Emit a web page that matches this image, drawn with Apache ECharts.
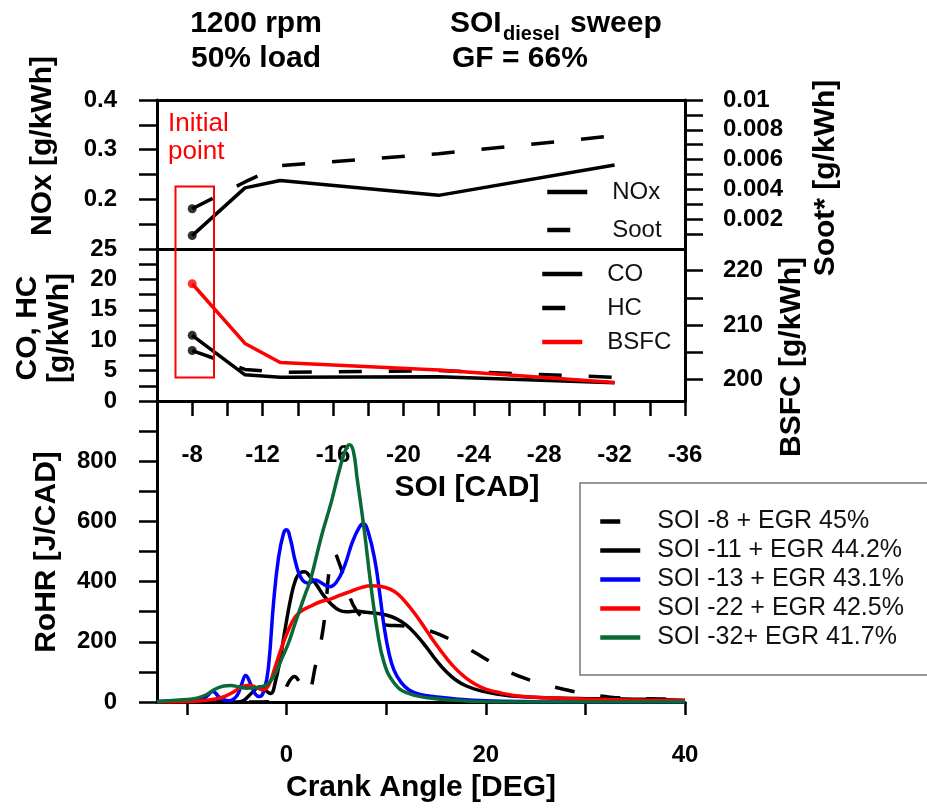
<!DOCTYPE html>
<html>
<head>
<meta charset="utf-8">
<script src="https://cdn.jsdelivr.net/npm/echarts@6/dist/echarts.min.js"></script>
<style>
  html, body { margin: 0; padding: 0; background: #fff; }
  #chart { width: 927px; height: 810px; }
</style>
</head>
<body>
<div id="chart"></div>
<script>
// ---- data ----
const soi = [-8, -11, -13, -22, -32];
const nox = [0.127, 0.223, 0.238, 0.208, 0.269];
const soot = [0.0027, 0.0045, 0.0056, 0.0064, 0.0076];
const co = [10.8, 4.3, 3.9, 4.0, 3.0];
const hc = [8.3, 5.2, 4.7, 5.0, 3.9];
const bsfc = [217.6, 206.6, 203.1, 201.7, 199.4];

// rate of heat release [crank angle, J/CAD]
const rohrSoi8 = [[-13,0],[-8,0],[-3,0],[-1,2],[-0.3,30],[0.3,70],[0.8,85],[1.4,60],[2.1,28],[2.4,40],[2.9,120],[3.4,190],[3.9,300],[4.3,440],[4.8,497],[5.2,470],[5.8,410],[6.4,345],[7.0,305],[7.8,278],[8.8,265],[10,256],[11.5,253],[13,248],[14.2,238],[15.4,224],[16.6,205],[17.8,185],[19,163],[20,143],[21.2,120],[22.5,97],[24.5,72],[26,57],[27.5,45],[29.5,30],[31,22],[32.5,16],[35,12],[37.5,10],[40,8]];
const rohrSoi11 = [[-13,0],[-10,0],[-5,0],[-4.3,5],[-3.5,30],[-2.7,50],[-2.1,38],[-1.6,28],[-1.1,70],[-0.6,150],[-0.1,250],[0.4,340],[0.9,405],[1.4,430],[1.8,433],[2.4,415],[3.0,390],[3.7,355],[4.5,325],[5.3,305],[6.0,300],[7.0,302],[8.0,298],[9.0,295],[10.0,289],[11.0,277],[12.0,256],[13.0,224],[14.0,184],[15.0,140],[16.0,102],[17.0,73],[18.0,54],[19.5,37],[21.5,25],[23,19],[26,14],[30,11],[34,10],[37,8],[40,6]];
const rohrSoi13 = [[-13,2],[-10,6],[-8.2,15],[-7.4,35],[-6.7,15],[-5.8,4],[-5,20],[-4.5,60],[-4.1,88],[-3.6,60],[-3.1,25],[-2.7,18],[-2.2,45],[-1.8,120],[-1.3,330],[-0.8,480],[-0.3,560],[0,572],[0.4,540],[0.9,465],[1.5,410],[2.2,395],[2.9,405],[3.5,396],[4.3,383],[5.0,398],[5.8,450],[6.6,530],[7.3,580],[7.7,592],[8.2,565],[8.9,465],[9.4,350],[9.8,250],[10.3,160],[10.8,105],[11.5,65],[12.3,40],[13.4,25],[15,17],[17,10],[20,4],[25,1],[30,0],[40,0]];
const rohrSoi22 = [[-13,0],[-10,2],[-8,6],[-6.5,15],[-5.5,30],[-4.5,50],[-3.8,56],[-3.0,48],[-2.4,40],[-1.8,55],[-1.2,110],[-0.5,180],[0.2,240],[0.9,284],[1.6,305],[2.4,318],[3.4,333],[4.4,342],[5.4,355],[6.4,367],[7.5,380],[8.5,386],[9.5,384],[10.4,375],[11.2,358],[12,330],[13,288],[14,240],[15,192],[16,148],[17,110],[18,80],[19,58],[20,43],[21.5,30],[23,21],[25,16],[28,12],[32,8],[36,6],[40,4]];
const rohrSoi32 = [[-13,2],[-10,8],[-9,13],[-8,25],[-7.2,42],[-6.3,53],[-5.6,55],[-4.8,50],[-4.0,46],[-3.2,47],[-2.4,52],[-1.8,62],[-1.1,96],[-0.4,150],[0.2,196],[0.8,255],[1.9,360],[2.4,405],[3.5,550],[4.5,665],[5.3,770],[5.9,835],[6.3,855],[6.7,835],[7.1,740],[7.8,572],[8.4,406],[9.1,240],[9.8,130],[10.8,63],[12.1,30],[14.4,13],[17.5,5],[20,1],[25,0],[40,0]];

const rohrNames = ['SOI -8 + EGR 45%', 'SOI -11 + EGR 44.2%', 'SOI -13 + EGR 43.1%', 'SOI -22 + EGR 42.5%', 'SOI -32+ EGR 41.7%'];

// ---- tick positions ----
const noxTicks = [0.1, 0.15, 0.2, 0.25, 0.3, 0.35, 0.4];
const noxLabels = [0.2, 0.3, 0.4];
const sootTicks = [0.001, 0.002, 0.003, 0.004, 0.005, 0.006, 0.007, 0.008, 0.009, 0.01];
const sootLabels = [0.002, 0.004, 0.006, 0.008, 0.01];
const coTicks = [0, 2.5, 5, 7.5, 10, 12.5, 15, 17.5, 20, 22.5, 25];
const coLabels = [0, 5, 10, 15, 20, 25];
const bsfcTicks = [200, 205, 210, 215, 220];
const bsfcLabels = [200, 210, 220];
const rohrTicks = [0, 100, 200, 300, 400, 500, 600, 700, 800, 900, 1000];
const rohrLabels = [0, 200, 400, 600, 800];
const caTicks = [-10, 0, 10, 20, 30, 40];
const caLabels = [0, 20, 40];

const FONT = '"Liberation Sans", Arial, sans-serif';
const GREEN = '#0a6a36';
const LW = 3.5;

var chart = echarts.init(document.getElementById('chart'));

var axisLine = { onZero: false, lineStyle: { color: '#000', width: 3 } };
var tickStyle = { lineStyle: { color: '#000', width: 2.5 } };
var tickFont = { color: '#000', fontFamily: FONT, fontWeight: 'bold', fontSize: 24 };

function yAx(grid, pos, min, max, ticks, labels, fmt) {
    return {
        type: 'value', gridIndex: grid, position: pos, min: min, max: max,
        axisLine: axisLine,
        axisTick: Object.assign({ length: 18, customValues: ticks }, tickStyle),
        axisLabel: Object.assign({ margin: pos === 'left' ? 40 : 38, customValues: labels, formatter: fmt }, tickFont),
        splitLine: { show: false }
    };
}

function line(name, x, y, data, color, dashed) {
    return {
        name: name, type: 'line', xAxisIndex: x, yAxisIndex: y, data: data,
        symbol: 'none', smooth: false, color: color,
        lineStyle: { color: color, width: LW, type: dashed ? [23, 27] : 'solid' }
    };
}

function dot(x, y, pt, color) {
    return { type: 'scatter', xAxisIndex: x, yAxisIndex: y, data: [pt], symbolSize: 9, itemStyle: { color: color }, z: 5 };
}

function curve(name, data, color, dashed) {
    return {
        name: name, type: 'line', xAxisIndex: 3, yAxisIndex: 4, data: data,
        symbol: 'none', smooth: 0.45, color: color,
        lineStyle: { color: color, width: LW, type: dashed ? [20, 26] : 'solid' }
    };
}

function txt(x, y, text, size, opts) {
    return {
        type: 'text', x: x, y: y, rotation: (opts && opts.rot) || 0,
        style: {
            text: text, fill: (opts && opts.color) || '#000',
            font: ((opts && opts.weight) || 'bold') + ' ' + size + 'px ' + FONT,
            textAlign: (opts && opts.align) || 'center', align: (opts && opts.align) || 'center',
            textVerticalAlign: 'middle', verticalAlign: 'middle',
            lineHeight: opts && opts.lh
        }
    };
}

var pairs = function (ys) { return soi.map(function (s, i) { return [s, ys[i]]; }); };

var legendBase = {
    orient: 'vertical', selectedMode: false, itemWidth: 40,
    itemStyle: { opacity: 0 },
    lineStyle: { width: 4.5 }
};

var option = {
    animation: false,
    backgroundColor: '#fff',
    grid: [
        { left: 157, top: 100, width: 528, height: 149 },
        { left: 157, top: 249, width: 528, height: 152 },
        { left: 157, top: 401, width: 528, height: 301 }
    ],
    xAxis: [
        { type: 'value', gridIndex: 0, min: -36, max: -6, inverse: true, position: 'bottom',
          axisLine: axisLine, axisTick: { show: false }, axisLabel: { show: false }, splitLine: { show: false } },
        { type: 'value', gridIndex: 0, min: -36, max: -6, inverse: true, position: 'top',
          axisLine: axisLine, axisTick: { show: false }, axisLabel: { show: false }, splitLine: { show: false } },
        { type: 'value', gridIndex: 1, min: -36, max: -6, interval: 2, inverse: true, position: 'bottom',
          axisLine: axisLine, axisTick: Object.assign({ length: 15 }, tickStyle),
          axisLabel: Object.assign({ margin: 42, showMinLabel: true, showMaxLabel: true,
              formatter: function (v) { return v % 4 === 0 ? String(v) : ''; } }, tickFont),
          splitLine: { show: false } },
        { type: 'value', gridIndex: 2, min: -13, max: 40, position: 'bottom',
          axisLine: axisLine, axisTick: Object.assign({ length: 13, customValues: caTicks }, tickStyle),
          axisLabel: Object.assign({ margin: 41, customValues: caLabels }, tickFont),
          splitLine: { show: false } }
    ],
    yAxis: [
        yAx(0, 'left', 0.1, 0.4, noxTicks, noxLabels, function (v) { return v.toFixed(1); }),
        yAx(0, 'right', 0, 0.01, sootTicks, sootLabels, function (v) { return v >= 0.0099 ? '0.01' : v.toFixed(3); }),
        yAx(1, 'left', 0, 25, coTicks, coLabels),
        yAx(1, 'right', 196, 224, bsfcTicks, bsfcLabels),
        yAx(2, 'left', 0, 1000, rohrTicks, rohrLabels)
    ],
    legend: [
        Object.assign({ data: ['NOx', 'Soot'], left: 545, top: 180, padding: 0,
          itemHeight: 24, itemGap: 14,
          textStyle: { fontFamily: FONT, fontSize: 24, color: '#111', lineHeight: 24, padding: [0, 0, 0, 20] } }, legendBase),
        Object.assign({ data: ['CO', 'HC', 'BSFC'], left: 540, top: 262, padding: 0,
          itemHeight: 24, itemGap: 10,
          textStyle: { fontFamily: FONT, fontSize: 24, color: '#111', lineHeight: 24, padding: [0, 0, 0, 20] } }, legendBase),
        Object.assign({ data: rohrNames, left: 580, top: 483, padding: [26, 60, 25, 18],
          borderColor: '#777', borderWidth: 1.5, borderRadius: 0,
          itemHeight: 22, itemGap: 4,
          textStyle: { fontFamily: FONT, fontSize: 25, color: '#111', lineHeight: 22, padding: [0, 0, 0, 12] } }, legendBase)
    ],
    series: [
        line('NOx', 0, 0, pairs(nox), '#000', false),
        line('Soot', 0, 1, pairs(soot), '#000', true),
        dot(0, 0, [soi[0], nox[0]], '#000'),
        dot(0, 1, [soi[0], soot[0]], '#000'),
        line('CO', 2, 2, pairs(co), '#000', false),
        line('HC', 2, 2, pairs(hc), '#000', true),
        line('BSFC', 2, 3, pairs(bsfc), '#ff0000', false),
        dot(2, 2, [soi[0], co[0]], '#000'),
        dot(2, 2, [soi[0], hc[0]], '#000'),
        dot(2, 3, [soi[0], bsfc[0]], '#ff0000'),
        curve(rohrNames[0], rohrSoi8, '#000', true),
        curve(rohrNames[1], rohrSoi11, '#000', false),
        curve(rohrNames[2], rohrSoi13, '#0000ff', false),
        curve(rohrNames[3], rohrSoi22, '#ff0000', false),
        curve(rohrNames[4], rohrSoi32, GREEN, false)
    ],
    graphic: [
        txt(256, 24, '1200 rpm', 30),
        txt(256, 59, '50% load', 30),
        txt(450, 24, 'SOI', 30, { align: 'left' }),
        txt(503, 34, 'diesel', 20, { align: 'left' }),
        txt(570, 24, 'sweep', 30, { align: 'left' }),
        txt(452, 59, 'GF = 66%', 30, { align: 'left' }),
        txt(43, 146, 'NOx [g/kWh]', 30, { rot: Math.PI / 2 }),
        txt(826, 178, 'Soot* [g/kWh]', 30, { rot: Math.PI / 2 }),
        txt(28, 328, 'CO, HC', 30, { rot: Math.PI / 2 }),
        txt(60, 328, '[g/kWh]', 30, { rot: Math.PI / 2 }),
        txt(792, 357, 'BSFC [g/kWh]', 30, { rot: Math.PI / 2 }),
        txt(47, 552, 'RoHR [J/CAD]', 30, { rot: Math.PI / 2 }),
        txt(467, 488, 'SOI [CAD]', 30),
        txt(421, 788, 'Crank Angle [DEG]', 30),
        txt(168, 138, 'Initial\npoint', 26, { align: 'left', weight: 'normal', color: '#ff0000', lh: 28 }),
        { type: 'rect', shape: { x: 175.5, y: 186.5, width: 38.5, height: 191 },
          style: { fill: 'none', stroke: '#ff0000', lineWidth: 2 }, z: 10 }
    ]
};

chart.setOption(option);
</script>
</body>
</html>
